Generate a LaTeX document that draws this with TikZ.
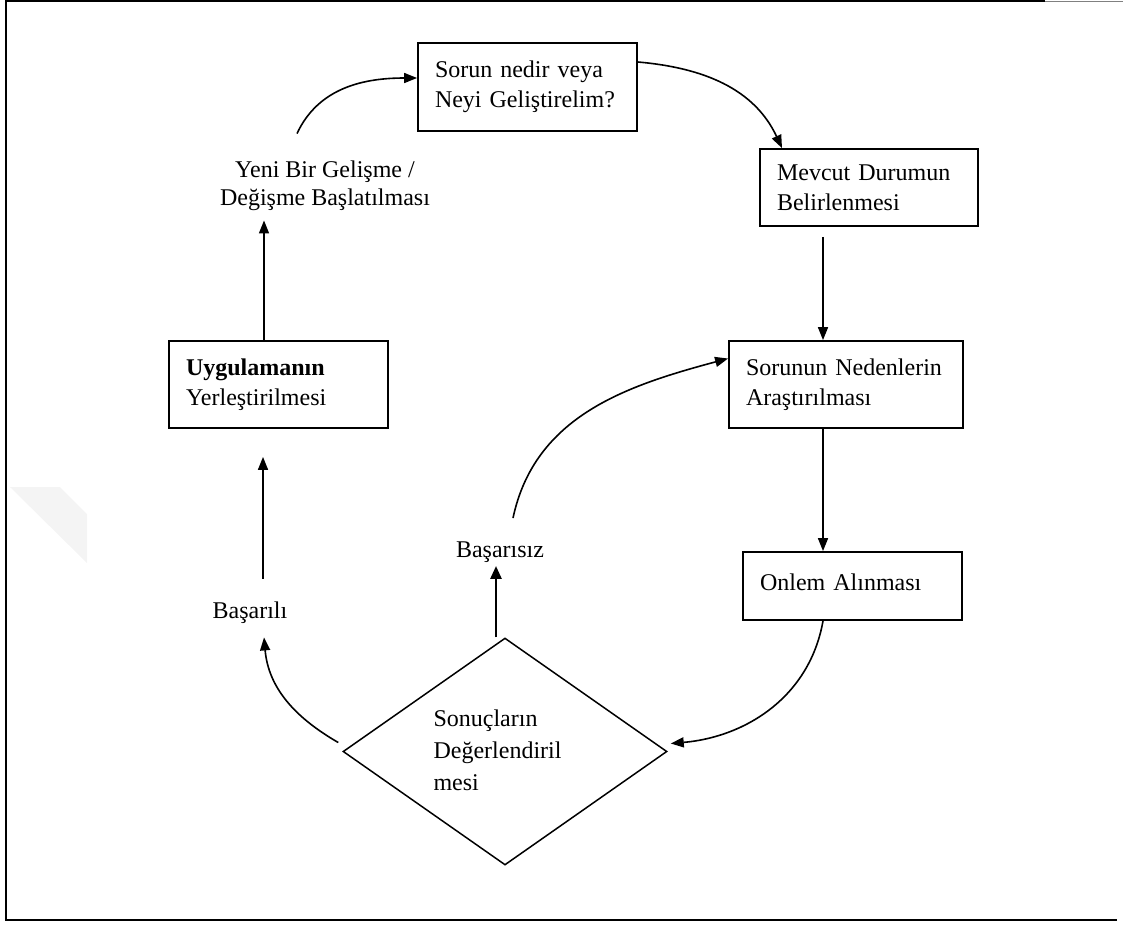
\documentclass[tikz,border=0pt]{standalone}
\usepackage{fontspec}
\setmainfont{Liberation Serif}
\usetikzlibrary{arrows.meta,shapes.geometric,calc}
\begin{document}
\begin{tikzpicture}[x=1pt,y=1pt,
  txt/.style={font=\fontsize{24}{30}\selectfont},
  stepbox/.style={draw,line width=1.8pt,txt,align=left,inner xsep=17pt,inner ysep=0pt},
  arr/.style={line width=1.6pt,-{Triangle[length=13pt,width=10pt]}},
  thickarr/.style={line width=2.6pt,-{Triangle[length=13pt,width=11pt]}},
]
\useasboundingbox (0,0) rectangle (1123,-927);

% page frame
\draw[line width=1.5pt] (1045,-1) -- (6,-1) -- (6,-920) -- (1117,-920);
\draw[line width=1.5pt,gray] (1045,-1.5) -- (1123,-1.5);
\fill[gray!9] (10,-487) -- (60,-487) -- (87,-514) -- (87,-563) -- cycle;

% process steps
\node[stepbox,text width=185pt,minimum height=88pt] (s1) at (527.5,-87) {Sorun nedir veya\\Neyi Geliştirelim?};
\node[stepbox,text width=184pt,minimum height=77pt] (s2) at (869,-187.5) {Mevcut Durumun\\Belirlenmesi};
\node[stepbox,text width=200pt,minimum height=87pt] (s3) at (846,-384.5) {Sorunun Nedenlerin\\Araştırılması};
\node[stepbox,text width=185pt,minimum height=68pt] (s4) at (852.5,-586) {\raisebox{7pt}{Onlem Alınması}};
\node[stepbox,text width=185pt,minimum height=87pt] (s6) at (278.5,-384.5) {\textbf{Uygulamanın}\\Yerleştirilmesi};

% decision
\node[draw,diamond,line width=1.5pt,minimum width=324pt,minimum height=227pt,inner sep=0pt] (d) at (505,-751.5) {};
\node[align=left,anchor=west,font=\fontsize{24}{32}\selectfont] (dt) at (430,-750) {Sonuçların\\Değerlendiril\\mesi};

% labels
\node[align=center,font=\fontsize{24}{28}\selectfont] (yeni) at (325,-186) {Yeni Bir Gelişme /\\Değişme Başlatılması};
\node[txt] (bsz) at (500,-552) {Başarısız};
\node[txt] (bli) at (250,-613) {Başarılı};

% connectors
\draw[arr] ([xshift=-14.5pt]s6.north) -- ([xshift=-14.5pt,yshift=-6pt]s6.north |- yeni.south);
\draw[arr] ([xshift=-28pt,yshift=24pt]yeni.north) to[out=65,in=180] ([yshift=9pt]s1.west);
\draw[arr] ([yshift=25pt]s1.east) to[out=-5,in=115] ([xshift=-87pt]s2.north);
\draw[arr] ([xshift=-46pt,yshift=-10pt]s2.south) -- ([xshift=-23pt]s3.north);
\draw[arr] ([xshift=-23pt]s3.south) -- ([xshift=-29.5pt]s4.north);
\draw[arr] ([xshift=-29.5pt]s4.south) to[out=-100,in=5] ([xshift=3pt,yshift=8pt]d.east);
\draw[thickarr] ([xshift=-9pt]d.north) -- ([xshift=-4pt]bsz.south);
\draw[arr] ([xshift=13pt,yshift=20pt]bsz.north) to[out=78,in=195] ([yshift=26pt]s3.west);
\draw[arr] ([xshift=-4pt,yshift=9pt]d.west) to[out=150,in=-85] ([xshift=14pt,yshift=-10pt]bli.south);
\draw[arr] ([xshift=13pt,yshift=20pt]bli.north) -- ([xshift=-15.5pt,yshift=-28pt]s6.south);
\end{tikzpicture}
\end{document}
